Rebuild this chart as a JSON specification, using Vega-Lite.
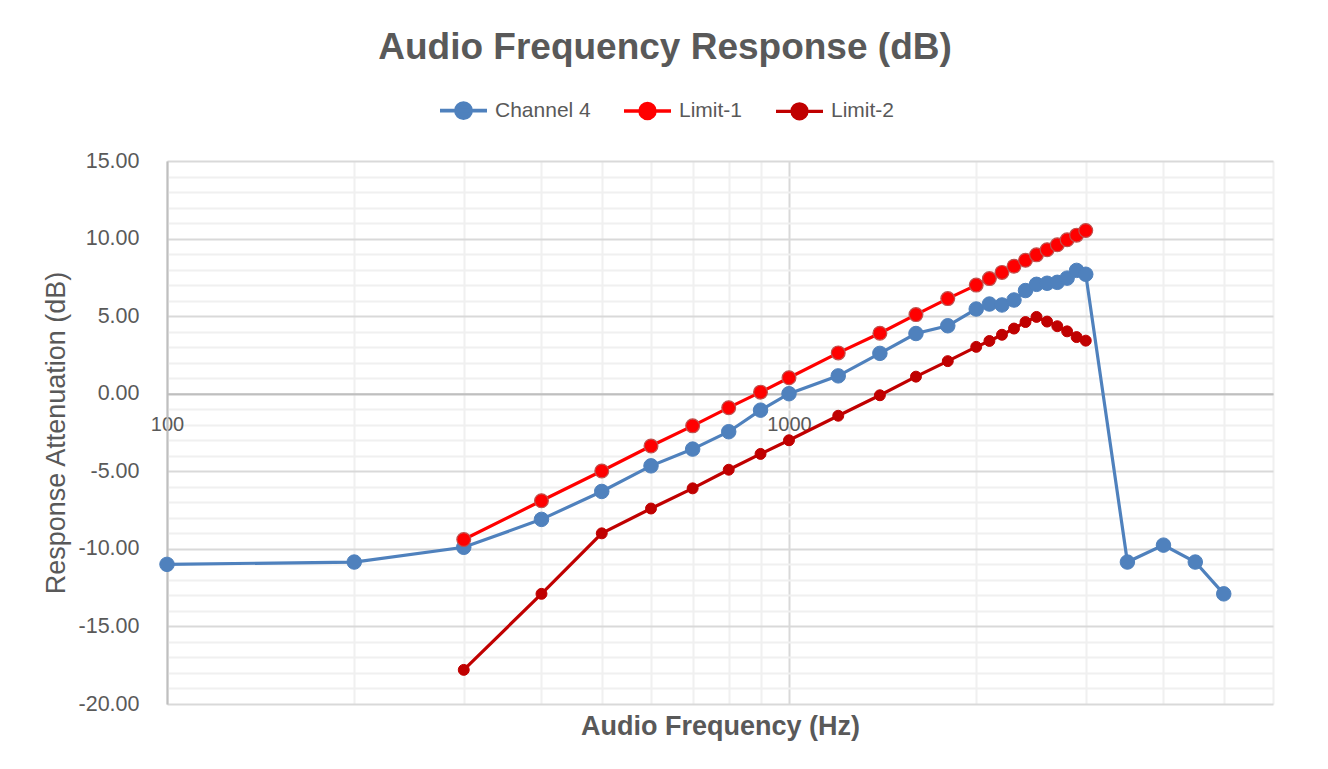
{
  "$schema": "https://vega.github.io/schema/vega-lite/v6.json",
  "width": 1106,
  "height": 543,
  "autosize": "none",
  "padding": {"left": 167, "top": 161, "right": 55, "bottom": 65},
  "background": "white",
  "config": {
    "view": {"stroke": null},
    "font": "Liberation Sans",
    "legend": {"padding": 0}
  },
  "title": {
    "text": "Audio Frequency Response (dB)",
    "fontSize": 37,
    "fontWeight": "bold",
    "color": "#595959",
    "font": "Liberation Sans",
    "anchor": "middle",
    "frame": "group",
    "dx": -55,
    "offset": 18
  },
  "data": {
    "values": [
      {"series": "Channel 4", "freq": 100, "db": -11.0},
      {"series": "Channel 4", "freq": 200, "db": -10.85},
      {"series": "Channel 4", "freq": 300, "db": -9.9},
      {"series": "Channel 4", "freq": 400, "db": -8.1},
      {"series": "Channel 4", "freq": 500, "db": -6.3},
      {"series": "Channel 4", "freq": 600, "db": -4.65},
      {"series": "Channel 4", "freq": 700, "db": -3.57},
      {"series": "Channel 4", "freq": 800, "db": -2.45},
      {"series": "Channel 4", "freq": 900, "db": -1.06},
      {"series": "Channel 4", "freq": 1000, "db": 0.0},
      {"series": "Channel 4", "freq": 1200, "db": 1.15},
      {"series": "Channel 4", "freq": 1400, "db": 2.6},
      {"series": "Channel 4", "freq": 1600, "db": 3.88},
      {"series": "Channel 4", "freq": 1800, "db": 4.38},
      {"series": "Channel 4", "freq": 2000, "db": 5.46},
      {"series": "Channel 4", "freq": 2100, "db": 5.78},
      {"series": "Channel 4", "freq": 2200, "db": 5.72},
      {"series": "Channel 4", "freq": 2300, "db": 6.04},
      {"series": "Channel 4", "freq": 2400, "db": 6.65},
      {"series": "Channel 4", "freq": 2500, "db": 7.05},
      {"series": "Channel 4", "freq": 2600, "db": 7.12},
      {"series": "Channel 4", "freq": 2700, "db": 7.18},
      {"series": "Channel 4", "freq": 2800, "db": 7.45},
      {"series": "Channel 4", "freq": 2900, "db": 7.95},
      {"series": "Channel 4", "freq": 3000, "db": 7.7},
      {"series": "Channel 4", "freq": 3500, "db": -10.85},
      {"series": "Channel 4", "freq": 4000, "db": -9.76},
      {"series": "Channel 4", "freq": 4500, "db": -10.85},
      {"series": "Channel 4", "freq": 5000, "db": -12.9},
      {"series": "Limit-1", "freq": 300, "db": -9.4},
      {"series": "Limit-1", "freq": 400, "db": -6.9},
      {"series": "Limit-1", "freq": 500, "db": -4.98},
      {"series": "Limit-1", "freq": 600, "db": -3.37},
      {"series": "Limit-1", "freq": 700, "db": -2.07},
      {"series": "Limit-1", "freq": 800, "db": -0.9},
      {"series": "Limit-1", "freq": 900, "db": 0.1},
      {"series": "Limit-1", "freq": 1000, "db": 1.03},
      {"series": "Limit-1", "freq": 1200, "db": 2.63},
      {"series": "Limit-1", "freq": 1400, "db": 3.9},
      {"series": "Limit-1", "freq": 1600, "db": 5.1},
      {"series": "Limit-1", "freq": 1800, "db": 6.13},
      {"series": "Limit-1", "freq": 2000, "db": 7.0},
      {"series": "Limit-1", "freq": 2100, "db": 7.42},
      {"series": "Limit-1", "freq": 2200, "db": 7.82},
      {"series": "Limit-1", "freq": 2300, "db": 8.22},
      {"series": "Limit-1", "freq": 2400, "db": 8.6},
      {"series": "Limit-1", "freq": 2500, "db": 8.95},
      {"series": "Limit-1", "freq": 2600, "db": 9.28},
      {"series": "Limit-1", "freq": 2700, "db": 9.6},
      {"series": "Limit-1", "freq": 2800, "db": 9.92},
      {"series": "Limit-1", "freq": 2900, "db": 10.22},
      {"series": "Limit-1", "freq": 3000, "db": 10.52},
      {"series": "Limit-2", "freq": 300, "db": -17.8},
      {"series": "Limit-2", "freq": 400, "db": -12.9},
      {"series": "Limit-2", "freq": 500, "db": -9.0},
      {"series": "Limit-2", "freq": 600, "db": -7.4},
      {"series": "Limit-2", "freq": 700, "db": -6.1},
      {"series": "Limit-2", "freq": 800, "db": -4.9},
      {"series": "Limit-2", "freq": 900, "db": -3.88},
      {"series": "Limit-2", "freq": 1000, "db": -3.0},
      {"series": "Limit-2", "freq": 1200, "db": -1.42},
      {"series": "Limit-2", "freq": 1400, "db": -0.1},
      {"series": "Limit-2", "freq": 1600, "db": 1.1},
      {"series": "Limit-2", "freq": 1800, "db": 2.1},
      {"series": "Limit-2", "freq": 2000, "db": 3.02},
      {"series": "Limit-2", "freq": 2100, "db": 3.4},
      {"series": "Limit-2", "freq": 2200, "db": 3.8},
      {"series": "Limit-2", "freq": 2300, "db": 4.2},
      {"series": "Limit-2", "freq": 2400, "db": 4.62},
      {"series": "Limit-2", "freq": 2500, "db": 4.95},
      {"series": "Limit-2", "freq": 2600, "db": 4.65},
      {"series": "Limit-2", "freq": 2700, "db": 4.35},
      {"series": "Limit-2", "freq": 2800, "db": 4.02},
      {"series": "Limit-2", "freq": 2900, "db": 3.65},
      {"series": "Limit-2", "freq": 3000, "db": 3.42}
    ]
  },
  "encoding": {
    "x": {
      "field": "freq",
      "type": "quantitative",
      "scale": {"type": "log", "domain": [100, 6000], "nice": false},
      "axis": {
        "orient": "bottom",
        "offset": -310.3,
        "values": [100, 200, 300, 400, 500, 600, 700, 800, 900, 1000, 2000, 3000, 4000, 5000, 6000],
        "format": "d",
        "labelExpr": "datum.value == 100 || datum.value == 1000 ? datum.label : ''",
        "labelFontSize": 20,
        "labelColor": "#595959",
        "labelPadding": 21,
        "labelBaseline": "top",
        "labelFlush": false,
        "labelOverlap": false,
        "ticks": false,
        "domainColor": "#bfbfbf",
        "domainWidth": 2,
        "grid": true,
        "gridColor": {"condition": {"test": "datum.value == 100 || datum.value == 1000", "value": "#d9d9d9"}, "value": "#f0f0f0"},
        "gridWidth": 2,
        "title": "Audio Frequency (Hz)",
        "titleFontSize": 27,
        "titleFontWeight": "bold",
        "titleColor": "#595959",
        "titleBaseline": "alphabetic",
        "titleY": 341
      }
    },
    "y": {
      "field": "db",
      "type": "quantitative",
      "scale": {"domain": [-20, 15], "nice": false, "zero": false},
      "axis": {
        "values": [-20, -19, -18, -17, -16, -15, -14, -13, -12, -11, -10, -9, -8, -7, -6, -5, -4, -3, -2, -1, 0, 1, 2, 3, 4, 5, 6, 7, 8, 9, 10, 11, 12, 13, 14, 15],
        "labelExpr": "datum.value % 5 === 0 ? replace(format(datum.value, '.2f'), '\u2212', '-') : ''",
        "labelFontSize": 21.5,
        "labelColor": "#595959",
        "labelPadding": 28,
        "labelOverlap": false,
        "labelFlush": false,
        "ticks": false,
        "domainColor": "#bfbfbf",
        "domainWidth": 2,
        "grid": true,
        "gridColor": {"condition": {"test": "datum.value % 5 === 0", "value": "#d9d9d9"}, "value": "#f0f0f0"},
        "gridWidth": 2,
        "title": "Response Attenuation (dB)",
        "titleFontSize": 27,
        "titleFontWeight": "normal",
        "titleColor": "#595959",
        "titlePadding": 8
      }
    },
    "color": {
      "field": "series",
      "type": "nominal",
      "scale": {"domain": ["Channel 4", "Limit-1", "Limit-2"], "range": ["#4F81BD", "#FF0000", "#C00000"]},
      "legend": {
        "orient": "none",
        "direction": "horizontal",
        "legendX": 271,
        "legendY": -76,
        "title": null,
        "labelFontSize": 21,
        "labelColor": "#595959",
        "labelOffset": 6,
        "columnPadding": 26,
        "symbolType": "M-1,0L1,0M0.32,0A0.32,0.32,0,1,1,-0.32,0A0.32,0.32,0,1,1,0.32,0Z",
        "symbolSize": 2209,
        "symbolStrokeWidth": 3,
        "encode": {
          "symbols": {
            "enter": {
              "size": {"value": 2209},
              "shape": {"value": "M-1,0L1,0M0.32,0A0.32,0.32,0,1,1,-0.32,0A0.32,0.32,0,1,1,0.32,0Z"}
            },
            "update": {
              "fill": {"scale": "color", "field": "value"},
              "stroke": {"scale": "color", "field": "value"},
              "size": {"value": 2209},
              "shape": {"value": "M-1,0L1,0M0.32,0A0.32,0.32,0,1,1,-0.32,0A0.32,0.32,0,1,1,0.32,0Z"},
              "strokeWidth": {"value": 3},
              "opacity": {"value": 1}
            }
          }
        }
      }
    }
  },
  "layer": [
    {
      "mark": {"type": "line", "strokeWidth": 3.2},
      "encoding": {
        "strokeWidth": {
          "field": "series",
          "type": "nominal",
          "scale": {"domain": ["Channel 4", "Limit-1", "Limit-2"], "range": [3.8, 3.2, 3.2]},
          "legend": null
        }
      }
    },
    {
      "transform": [{"filter": "datum.series === 'Channel 4'"}],
      "mark": {"type": "point", "filled": true, "opacity": 1, "size": 210, "strokeWidth": 1, "stroke": "#4F81BD"}
    },
    {
      "transform": [{"filter": "datum.series === 'Limit-1'"}],
      "mark": {"type": "point", "filled": true, "opacity": 1, "size": 190, "strokeWidth": 1.2, "stroke": "#C0504D"}
    },
    {
      "transform": [{"filter": "datum.series === 'Limit-2'"}],
      "mark": {"type": "point", "filled": true, "opacity": 1, "size": 120, "strokeWidth": 1, "stroke": "#C00000"}
    }
  ]
}
